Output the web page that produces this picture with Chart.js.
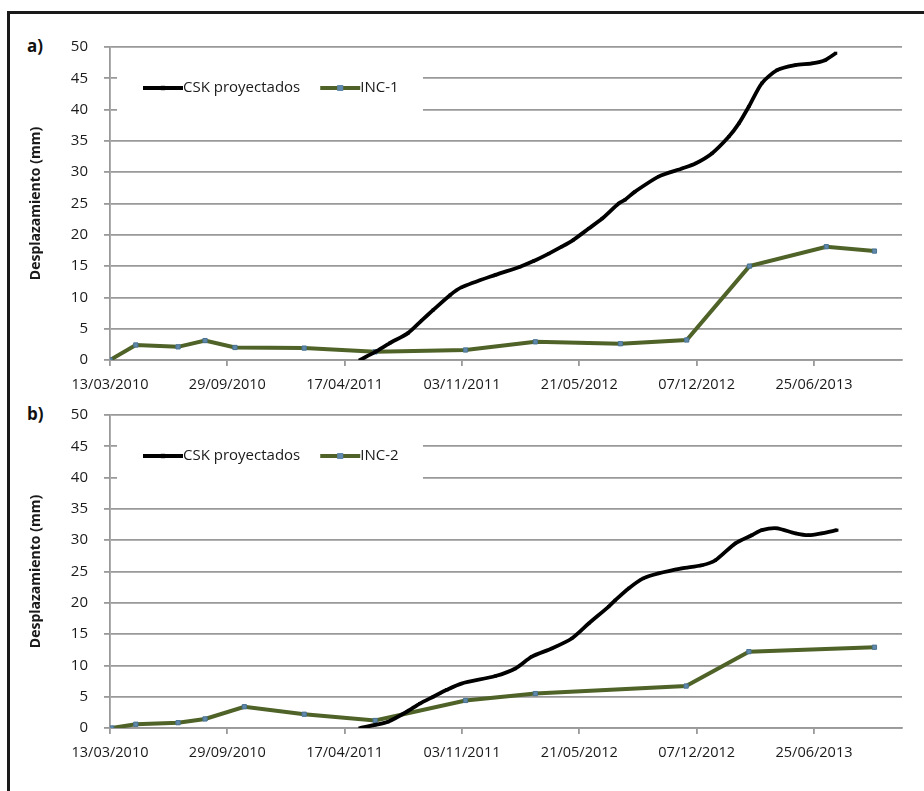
<!DOCTYPE html>
<html lang="es">
<head>
<meta charset="utf-8">
<title>Desplazamiento CSK / inclinómetros</title>
<script src="https://cdn.jsdelivr.net/npm/chart.js@4.4.1/dist/chart.umd.min.js"></script>
<style>
  body { margin: 0; background: #fff; font-family: 'Open Sans', sans-serif; }
  #marco {
    position: absolute; left: 7px; top: 11px; width: 917px; height: 780px;
    border-top: 3px solid #1a1a1a; border-left: 3px solid #1a1a1a;
  }
  .panel { position: absolute; left: 0; }
  .letra { position: absolute; left: 27px; font-weight: bold; font-size: 17px; color: #111; }
</style>
</head>
<body>
<div id="marco"></div>
<div class="letra" style="top:34px">a)</div>
<div class="letra" style="top:402px">b)</div>
<canvas id="graficoA" class="panel" style="top:20px" width="924" height="385"></canvas>
<canvas id="graficoB" class="panel" style="top:388px" width="924" height="385"></canvas>

<script>
// días contados desde el 13/03/2010
const FECHA_INICIO = Date.UTC(2010, 2, 13);
const DIAS_MAX = 1350;

// a) CSK proyectados + INC-1
const diasCSK_a = [426, 452, 477, 508, 531, 551, 580, 599, 657, 699, 722, 748, 770, 790, 816, 839, 867, 878, 895, 935, 975, 998, 1026, 1055, 1072, 1089, 1111, 1137, 1168, 1197, 1219, 1237];
const valoresCSK_a = [0, 1.3, 2.7, 4.3, 6.3, 8.0, 10.4, 11.6, 13.6, 14.9, 15.8, 17.0, 18.1, 19.2, 21.0, 22.6, 25.0, 25.6, 26.9, 29.3, 30.6, 31.4, 33.0, 35.7, 37.8, 40.5, 44.2, 46.3, 47.1, 47.4, 47.9, 49.0];
const diasINC1 = [0, 44, 116, 162, 213, 331, 452, 606, 725, 870, 983, 1090, 1221, 1303];
const valoresINC1 = [0, 2.4, 2.1, 3.1, 2.0, 1.9, 1.3, 1.6, 2.9, 2.6, 3.2, 15.0, 18.1, 17.4];

// b) CSK proyectados + INC-2
const diasCSK_b = [426, 452, 474, 506, 528, 551, 574, 599, 657, 691, 719, 753, 787, 816, 850, 861, 884, 909, 935, 975, 1009, 1032, 1066, 1094, 1111, 1137, 1168, 1191, 1213, 1239];
const valoresCSK_b = [0, 0.5, 1.0, 2.6, 3.9, 5.0, 6.1, 7.1, 8.3, 9.5, 11.4, 12.7, 14.3, 16.7, 19.4, 20.4, 22.3, 23.9, 24.7, 25.5, 26.0, 26.8, 29.5, 30.8, 31.6, 31.9, 31.1, 30.8, 31.1, 31.6];
const diasINC2 = [3, 44, 116, 162, 229, 331, 452, 606, 725, 982, 1089, 1303];
const valoresINC2 = [0, 0.6, 0.85, 1.45, 3.4, 2.2, 1.2, 4.4, 5.5, 6.7, 12.2, 12.9];

const GRIS = '#999999';
const VERDE = '#4f6228';

Chart.defaults.font.family = "'Open Sans', sans-serif";
Chart.defaults.color = '#1a1a1a';

function fechaTexto(dias) {
  const d = new Date(FECHA_INICIO + dias * 86400000);
  const dd = String(d.getUTCDate()).padStart(2, '0');
  const mm = String(d.getUTCMonth() + 1).padStart(2, '0');
  return dd + '/' + mm + '/' + d.getUTCFullYear();
}

function puntos(dias, valores) {
  return dias.map((d, i) => ({ x: d, y: valores[i] }));
}

// leyenda dentro del área de trazado, con fondo blanco que tapa la rejilla
const leyendaInterna = {
  id: 'leyendaInterna',
  afterDraw(chart) {
    const { ctx, chartArea } = chart;
    const x0 = chartArea.left, y0 = chartArea.top;
    ctx.save();
    ctx.fillStyle = '#fff';
    ctx.fillRect(x0 + 7, y0 + 12, 306, 66);
    ctx.font = "15px 'Open Sans', sans-serif";
    ctx.textBaseline = 'middle';
    ctx.fillStyle = '#1a1a1a';
    const y = y0 + 41;
    let x = x0 + 33;
    chart.data.datasets.forEach(ds => {
      ctx.strokeStyle = ds.borderColor;
      ctx.lineWidth = ds.borderWidth;
      ctx.beginPath();
      ctx.moveTo(x, y);
      ctx.lineTo(x + 40, y);
      ctx.stroke();
      const r = ds.pointRadius;
      ctx.fillStyle = ds.pointBackgroundColor;
      ctx.fillRect(x + 20 - r, y - r, 2 * r, 2 * r);
      ctx.fillStyle = '#1a1a1a';
      ctx.fillText(ds.label, x + 40, y);
      x += 40 + ctx.measureText(ds.label).width + 20;
    });
    ctx.restore();
  }
};

function crearGrafico(id, etiquetaInc, csk, inc) {
  new Chart(document.getElementById(id), {
    type: 'line',
    data: {
      datasets: [
        {
          label: 'CSK proyectados',
          data: csk,
          borderColor: '#000',
          borderWidth: 3.8,
          pointStyle: 'rect',
          pointRadius: 2.2,
          pointBackgroundColor: '#000',
          pointBorderColor: '#000',
          pointBorderWidth: 0,
          tension: 0.25
        },
        {
          label: etiquetaInc,
          data: inc,
          borderColor: VERDE,
          borderWidth: 4,
          pointStyle: 'rect',
          pointRadius: 3,
          pointBackgroundColor: '#5f88ab',
          pointBorderColor: '#4a7392',
          pointBorderWidth: 1,
          tension: 0
        }
      ]
    },
    options: {
      responsive: false,
      animation: false,
      events: [],
      layout: { padding: { left: 0, right: 22, top: 27, bottom: 0 } },
      plugins: { legend: { display: false }, tooltip: { enabled: false } },
      scales: {
        x: {
          type: 'linear',
          min: 0,
          max: DIAS_MAX,
          afterFit(scale) { scale.height = 45; },
          ticks: {
            stepSize: 200,
            includeBounds: false,
            autoSkip: false,
            maxRotation: 0,
            padding: 10,
            font: { size: 14.5 },
            callback: v => fechaTexto(v)
          },
          grid: { drawOnChartArea: false, drawTicks: true, tickLength: 6, color: GRIS, lineWidth: 1.8 },
          border: { color: GRIS, width: 1.8 }
        },
        y: {
          min: 0,
          max: 50,
          afterFit(scale) { scale.width = 110; },
          ticks: { stepSize: 5, padding: 16, font: { size: 15 } },
          grid: { color: GRIS, lineWidth: 1.8, tickLength: 6 },
          border: { color: GRIS, width: 1.8 },
          title: {
            display: true,
            text: 'Desplazamiento (mm)',
            font: { size: 14, weight: 'bold' },
            padding: { top: 28, bottom: 0 }
          }
        }
      }
    },
    plugins: [leyendaInterna]
  });
}

crearGrafico('graficoA', 'INC-1', puntos(diasCSK_a, valoresCSK_a), puntos(diasINC1, valoresINC1));
crearGrafico('graficoB', 'INC-2', puntos(diasCSK_b, valoresCSK_b), puntos(diasINC2, valoresINC2));
</script>
</body>
</html>
